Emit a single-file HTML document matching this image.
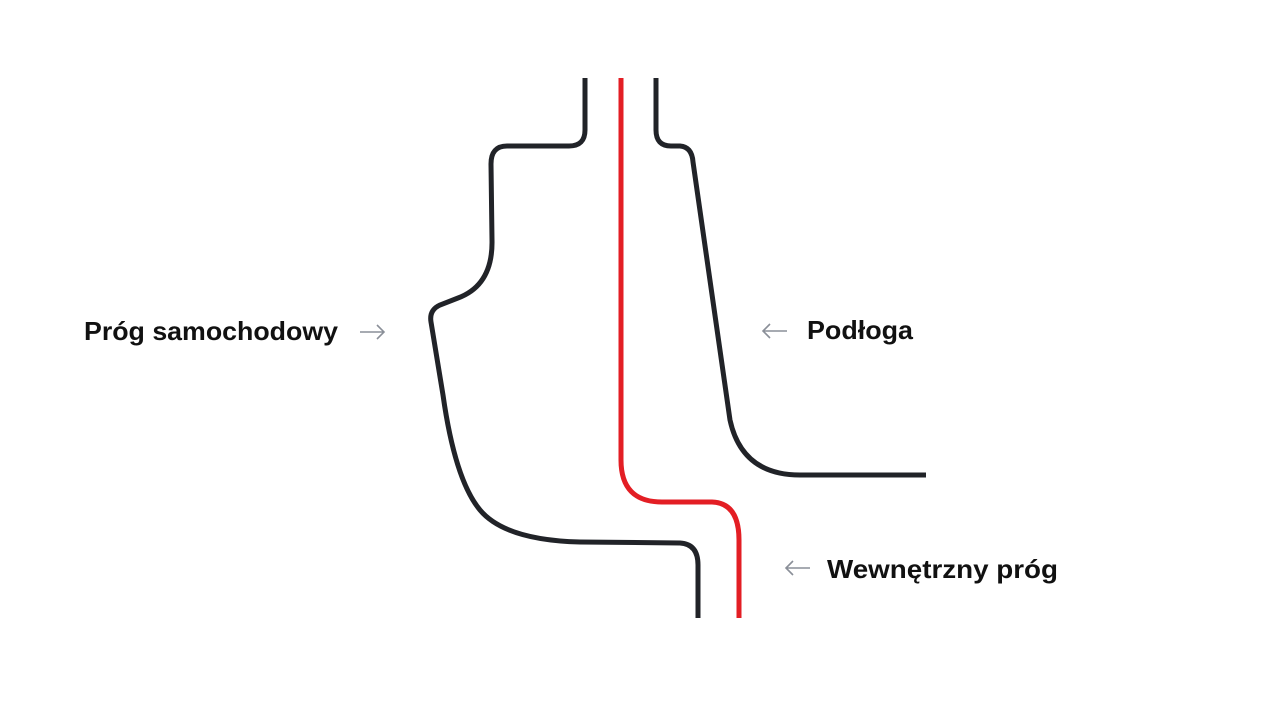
<!DOCTYPE html>
<html><head><meta charset="utf-8"><style>
html,body{margin:0;padding:0;background:#fff;width:1280px;height:720px;overflow:hidden}
</style></head><body>
<svg width="1280" height="720" viewBox="0 0 1280 720" xmlns="http://www.w3.org/2000/svg">
<g fill="none" stroke-width="5">
<path stroke="#212328" d="M585,78 L585,130 Q585,146 569,146 L507,146 Q491,146 491,164 L492,240 Q493,285 458,298 L440,305 Q429,310 431,322 L443,395 Q455,480 480,510 Q505,540 580,542 L680,543 Q698,544 698,565 L698,618"/>
<path stroke="#e31e24" d="M621,78 L621,460 Q621,502 662,502 L712,502 Q739,503 739,540 L739,618"/>
<path stroke="#212328" d="M656,78 L656,130 Q656,146 671,146 L680,146 Q692,147 693,162 L730,420 Q742,475 800,475 L926,475"/>
</g>
<g stroke="#8a8f98" stroke-width="1.6" fill="none">
<path d="M360,332 L384,332 M377,325 L384,332 L377,339"/>
<path d="M763,331 L787,331 M770,324 L763,331 L770,338"/>
<path d="M786,568 L810,568 M793,561 L786,568 L793,575"/>
</g>
<g font-family="Liberation Sans, sans-serif" font-weight="bold" font-size="26" fill="#111">
<text x="84" y="340" textLength="254" lengthAdjust="spacingAndGlyphs">Próg samochodowy</text>
<text x="807" y="339" textLength="106" lengthAdjust="spacingAndGlyphs">Podłoga</text>
<text x="827" y="578" textLength="231" lengthAdjust="spacingAndGlyphs">Wewnętrzny próg</text>
</g>
</svg>
</body></html>
